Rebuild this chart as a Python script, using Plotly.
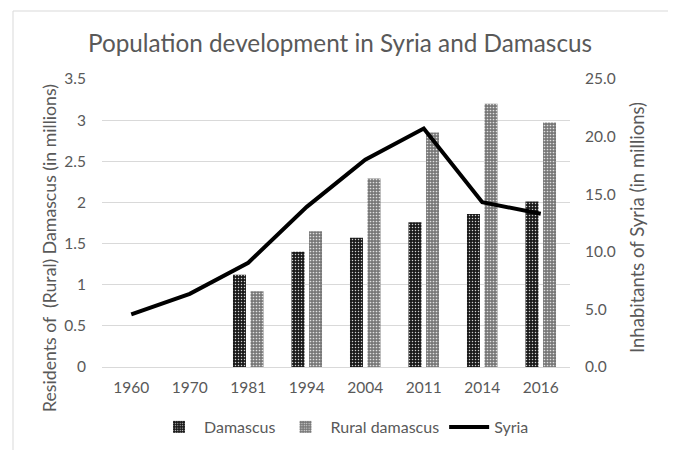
import plotly.graph_objects as go

years = ["1960", "1970", "1981", "1994", "2004", "2011", "2014", "2016"]
damascus = [None, None, 1.12, 1.40, 1.57, 1.76, 1.86, 2.01]
rural_damascus = [None, None, 0.92, 1.65, 2.29, 2.85, 3.20, 2.97]
syria = [4.57, 6.35, 9.05, 13.9, 18.0, 20.7, 14.3, 13.3]

FONT = "Lato"
GRAY = "#595959"

# the page adds an 8px body margin, so figure pixels = page pixels - 8
W, H = 676, 450
L, R, T, B = 94, 562, 71, 359
PW, PH = R - L, B - T


def px(x):
    return (x - L) / PW


def py(y):
    return (B - y) / PH


fig = go.Figure()
fig.add_trace(go.Bar(
    x=years, y=damascus, name="Damascus",
    marker=dict(color="#262626", line=dict(width=0),
                pattern=dict(shape=".", fgcolor="#d0d0d0", bgcolor="#1a1a1a",
                             size=3, solidity=0.2, fillmode="replace")),
    yaxis="y",
))
fig.add_trace(go.Bar(
    x=years, y=rural_damascus, name="Rural damascus",
    marker=dict(color="#8c8c8c", line=dict(width=0),
                pattern=dict(shape=".", fgcolor="#e0e0e0", bgcolor="#777777",
                             size=3, solidity=0.25, fillmode="replace")),
    yaxis="y",
))
fig.add_trace(go.Scatter(
    x=years, y=syria, name="Syria", mode="lines",
    line=dict(color="#000000", width=4),
    yaxis="y2",
))

fig.update_layout(
    template="none",
    width=W, height=H,
    paper_bgcolor="white", plot_bgcolor="white",
    margin=dict(l=L, r=W - R, t=T, b=H - B),
    font=dict(family=FONT, color=GRAY, size=15),
    title=dict(text="Population development in Syria and Damascus",
               x=px(332), xref="paper", xanchor="center",
               y=1 - 35 / H, yanchor="middle",
               font=dict(family=FONT, size=24.3, color=GRAY)),
    barmode="group", bargap=0.40, bargroupgap=0.26,
    xaxis=dict(type="category", showgrid=False, showline=True, automargin=False,
               linecolor="#d9d9d9", linewidth=1, ticks="", ticklabelstandoff=6,
               tickfont=dict(size=15.5, color=GRAY)),
    yaxis=dict(range=[0, 3.5], dtick=0.5, showgrid=True, gridcolor="#d9d9d9",
               gridwidth=1, zeroline=False, showline=False, ticks="",
               automargin=False, ticklabelstandoff=15,
               tickfont=dict(size=15.5, color=GRAY)),
    yaxis2=dict(range=[0, 25], dtick=5, tickformat=".1f", overlaying="y",
                side="right", showgrid=False, zeroline=False, showline=False,
                automargin=False, ticks="", ticklabelstandoff=14,
                tickfont=dict(size=15.5, color=GRAY)),
    legend=dict(orientation="h", x=px(336), xanchor="center", y=py(419),
                yanchor="middle", font=dict(size=16, color=GRAY),
                traceorder="normal", itemwidth=40),
    annotations=[
        dict(text="Residents of  (Rural) Damascus (in millions)", textangle=-90,
             xref="paper", yref="paper", x=px(41), y=py(240),
             xanchor="center", yanchor="middle", showarrow=False,
             font=dict(size=17.7, color=GRAY)),
        dict(text="Inhabitants of Syria (in millions)", textangle=-90,
             xref="paper", yref="paper", x=px(629), y=py(220),
             xanchor="center", yanchor="middle", showarrow=False,
             font=dict(size=18.5, color=GRAY)),
    ],
    shapes=[dict(type="rect", xref="paper", yref="paper",
                 x0=px(5), x1=px(663), y0=py(470), y1=py(3),
                 line=dict(color="#d9d9d9", width=1), fillcolor="rgba(0,0,0,0)",
                 layer="below")],
)

fig.write_html("out.html")
